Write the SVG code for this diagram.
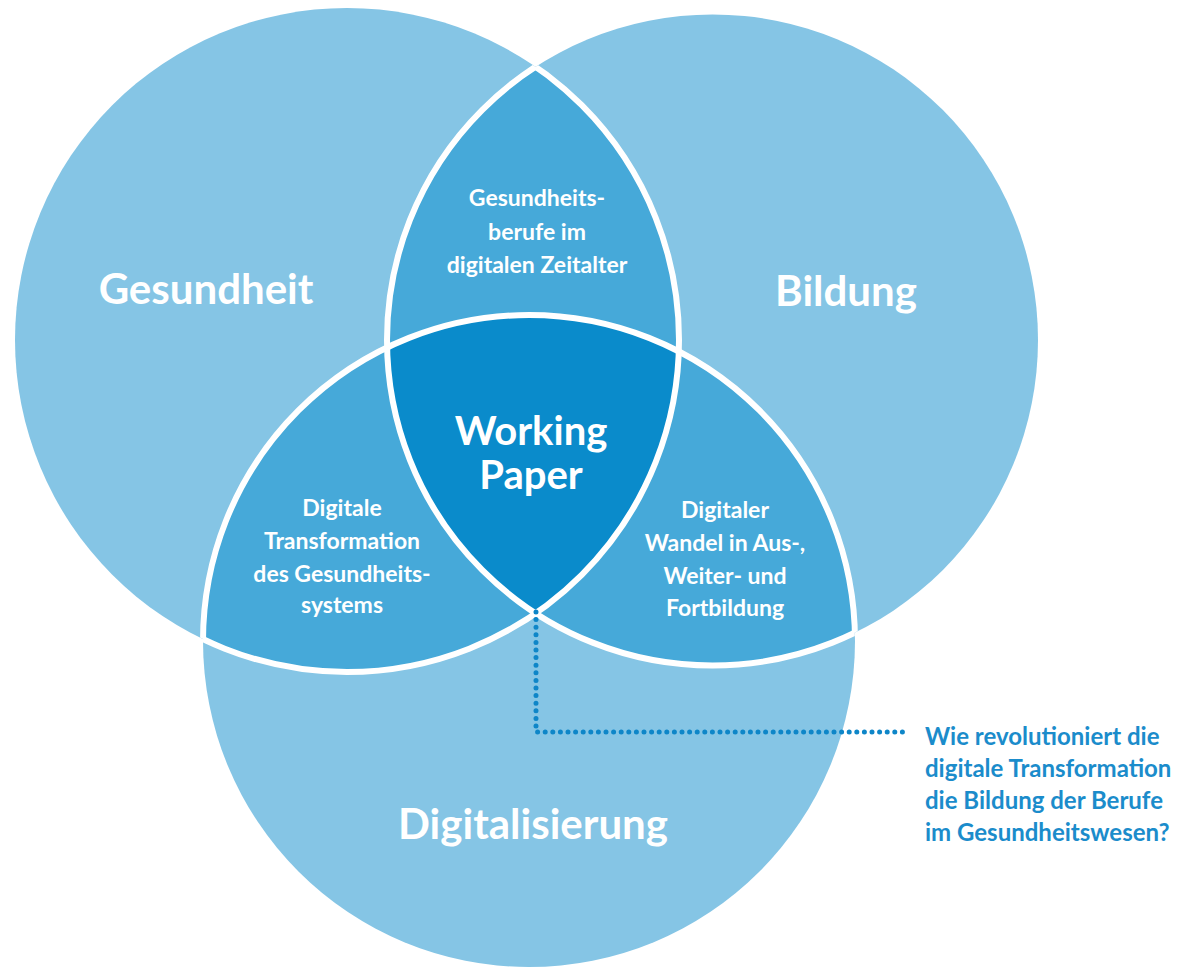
<svg xmlns="http://www.w3.org/2000/svg" width="1180" height="973" viewBox="0 0 1180 973">
  <style>
    .light { fill: #85C5E5; }
    .mid { fill: #46A9D9; }
    .dark { fill: #0A8BCB; }
    .edge { fill: none; stroke: #FFFFFF; stroke-width: 6; }
    text { font-family: Lato, "Open Sans", "Liberation Sans", sans-serif; font-weight: 700; text-anchor: middle; fill: #FFFFFF; }
    .big { font-size: 42px; }
    .center { font-size: 40px; }
    .lens { font-size: 23px; }
    .q { font-size: 24px; fill: #1B8CCB; text-anchor: start; }
    .dots { fill: none; stroke: #0E86C8; stroke-width: 5; stroke-linecap: round; stroke-dasharray: 0 7.6; }
  </style>
  <defs>
    <clipPath id="clipL"><circle cx="347" cy="340" r="332"/></clipPath>
    <clipPath id="clipR"><circle cx="712.5" cy="340" r="325.5"/></clipPath>
    <clipPath id="clipB"><circle cx="529" cy="641" r="326"/></clipPath>
    <clipPath id="clipRB"><circle cx="712.5" cy="340" r="325.5"/><circle cx="529" cy="641" r="326"/></clipPath>
    <clipPath id="clipLB"><circle cx="347" cy="340" r="332"/><circle cx="529" cy="641" r="326"/></clipPath>
    <clipPath id="clipLR"><circle cx="347" cy="340" r="332"/><circle cx="712.5" cy="340" r="325.5"/></clipPath>
  </defs>

  <g id="gesundheit">
    <circle class="light" cx="347" cy="340" r="332"/>
  </g>
  <g id="bildung">
    <circle class="light" cx="712.5" cy="340" r="325.5"/>
  </g>
  <g id="digitalisierung">
    <circle class="light" cx="529" cy="641" r="326"/>
  </g>

  <g id="lens-gesundheit-bildung">
    <circle class="mid" cx="712.5" cy="340" r="325.5" clip-path="url(#clipL)"/>
  </g>
  <g id="lens-gesundheit-digitalisierung">
    <circle class="mid" cx="529" cy="641" r="326" clip-path="url(#clipL)"/>
  </g>
  <g id="lens-bildung-digitalisierung">
    <circle class="mid" cx="529" cy="641" r="326" clip-path="url(#clipR)"/>
  </g>
  <g id="working-paper">
    <g clip-path="url(#clipL)">
      <circle class="dark" cx="529" cy="641" r="326" clip-path="url(#clipR)"/>
    </g>
  </g>

  <g id="edges">
    <circle class="edge" cx="347" cy="340" r="332" clip-path="url(#clipRB)"/>
    <circle class="edge" cx="712.5" cy="340" r="325.5" clip-path="url(#clipLB)"/>
    <circle class="edge" cx="529" cy="641" r="326" clip-path="url(#clipLR)"/>
  </g>

  <g id="labels">
    <text class="big" x="206" y="304">Gesundheit</text>
    <text class="big" x="846" y="306">Bildung</text>
    <text class="big" x="533" y="839">Digitalisierung</text>
    <text class="center" x="531" y="445">Working</text>
    <text class="center" x="531" y="489">Paper</text>
    <text class="lens" x="537" y="206">Gesundheits-</text>
    <text class="lens" x="537" y="240">berufe im</text>
    <text class="lens" x="537" y="273">digitalen Zeitalter</text>
    <text class="lens" x="342" y="516">Digitale</text>
    <text class="lens" x="342" y="549">Transformation</text>
    <text class="lens" x="342" y="582">des Gesundheits-</text>
    <text class="lens" x="342" y="613">systems</text>
    <text class="lens" x="725" y="518">Digitaler</text>
    <text class="lens" x="725" y="551">Wandel in Aus-,</text>
    <text class="lens" x="725" y="584">Weiter- und</text>
    <text class="lens" x="725" y="616">Fortbildung</text>
  </g>

  <g id="connectors">
    <path class="dots" d="M536,612 V732 H906"/>
  </g>

  <g id="question">
    <text class="q" x="925" y="745">Wie revolutioniert die</text>
    <text class="q" x="925" y="777">digitale Transformation</text>
    <text class="q" x="925" y="809">die Bildung der Berufe</text>
    <text class="q" x="925" y="841">im Gesundheitswesen?</text>
  </g>
</svg>
